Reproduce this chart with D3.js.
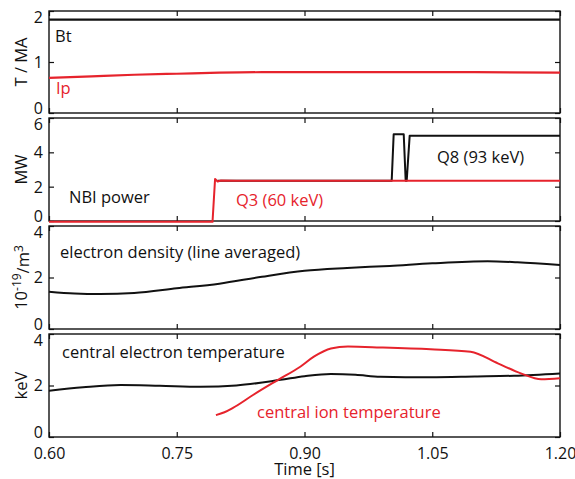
<!DOCTYPE html>
<html>
<head>
<meta charset="utf-8">
<script src="https://cdnjs.cloudflare.com/ajax/libs/d3/7.8.5/d3.min.js"></script>
<style>
  body { margin: 0; background: white; }
  text { font-family: "Open Sans", sans-serif; }
</style>
</head>
<body>
<svg id="chart" width="575" height="479"></svg>
<script>
var RED = "#e6232c";

// x axis
var timeTicks = [0.60, 0.75, 0.90, 1.05, 1.20];

// panel 1: Bt and Ip
var btTime = [0.60, 1.20];
var btVals = [1.83, 1.83];
var ipTime = [0.60, 0.65, 0.70, 0.75, 0.80, 0.85, 0.90, 1.00, 1.10, 1.20];
var ipVals = [0.69, 0.72, 0.75, 0.77, 0.79, 0.80, 0.80, 0.80, 0.80, 0.79];

// panel 2: NBI power
var q3Time = [0.60, 0.792, 0.795, 0.798, 0.802, 0.82, 1.20];
var q3Vals = [-0.05, -0.05, 2.45, 2.30, 2.36, 2.35, 2.35];
var q8Time = [0.798, 1.0024, 1.0047, 1.0165, 1.0188, 1.0200, 1.0235, 1.20];
var q8Vals = [2.35, 2.35, 5.05, 5.05, 2.35, 2.35, 4.97, 4.97];

// panel 3: line averaged electron density
var neTime = [0.60, 0.63, 0.66, 0.70, 0.75, 0.80, 0.85, 0.90, 0.95, 1.00, 1.05, 1.115, 1.15, 1.20];
var neVals = [1.45, 1.38, 1.36, 1.40, 1.58, 1.76, 2.03, 2.26, 2.37, 2.45, 2.55, 2.63, 2.59, 2.49];

// panel 4: central temperatures
var teTime = [0.60, 0.64, 0.684, 0.73, 0.778, 0.82, 0.872, 0.90, 0.931, 0.96, 0.989, 1.048, 1.10, 1.146, 1.20];
var teVals = [1.80, 1.93, 2.02, 1.99, 1.95, 2.00, 2.22, 2.36, 2.45, 2.42, 2.34, 2.32, 2.35, 2.38, 2.47];
var tiTime = [0.796, 0.806, 0.816, 0.84, 0.868, 0.895, 0.911, 0.931, 0.951, 0.989, 1.048, 1.095, 1.127, 1.154, 1.178, 1.20];
var tiVals = [0.85, 0.96, 1.13, 1.64, 2.20, 2.73, 3.12, 3.44, 3.51, 3.48, 3.41, 3.31, 2.86, 2.47, 2.24, 2.28];

var svg = d3.select("#chart");
var left = 49, right = 560;
var FS = "16.5px";

var x = d3.scaleLinear().domain([0.6, 1.2]).range([left, right]);

var panels = [
  { top: 11,  bottom: 113, domain: [0, 2], ticks: [0, 1, 2] },
  { top: 118, bottom: 221, domain: [0, 6], ticks: [0, 2, 4, 6] },
  { top: 226, bottom: 329, domain: [0, 4], ticks: [0, 2, 4] },
  { top: 334, bottom: 437, domain: [0, 4], ticks: [0, 2, 4] }
];

panels.forEach(function(p, i) {
  p.y = d3.scaleLinear().domain(p.domain).range([p.bottom, p.top]);
  var g = svg.append("g").attr("class", "panel");

  g.append("rect")
    .attr("x", left).attr("y", p.top)
    .attr("width", right - left).attr("height", p.bottom - p.top)
    .attr("fill", "none").attr("stroke", "#111").attr("stroke-width", 1.4);

  var yl = g.append("g")
    .attr("transform", "translate(" + left + ",0)")
    .call(d3.axisLeft(p.y).tickValues(p.ticks).tickSizeInner(-5).tickSizeOuter(0).tickPadding(6).tickFormat(d3.format("d")));
  // end labels pulled inward so stacked panels don't collide
  yl.selectAll(".tick text")
    .attr("dy", function(d) { return d == p.domain[1] ? "0.7em" : (d == p.domain[0] ? "0.0em" : "0.34em"); });

  g.append("g")
    .attr("transform", "translate(" + right + ",0)")
    .call(d3.axisRight(p.y).tickValues(p.ticks).tickSizeInner(-5).tickSizeOuter(0).tickFormat(""));

  g.append("g")
    .attr("transform", "translate(0," + p.top + ")")
    .call(d3.axisTop(x).tickValues(timeTicks).tickSizeInner(-5).tickSizeOuter(0).tickFormat(""));

  g.append("g")
    .attr("transform", "translate(0," + p.bottom + ")")
    .call(d3.axisBottom(x).tickValues(timeTicks).tickSizeInner(-5).tickSizeOuter(0).tickPadding(11)
      .tickFormat(i == 3 ? d3.format(".2f") : ""));

  g.selectAll(".domain").remove();
  g.selectAll(".tick line").attr("stroke", "#111").attr("stroke-width", 1.2);
  g.selectAll(".tick text").attr("font-size", "16px").attr("fill", "#111").attr("font-family", "Open Sans, sans-serif");
});

function drawLine(p, times, vals, color, curve, width) {
  var pts = times.map(function(t, i) { return [t, vals[i]]; });
  svg.append("path")
    .datum(pts)
    .attr("fill", "none")
    .attr("stroke", color)
    .attr("stroke-width", width || 2)
    .attr("stroke-linejoin", "round")
    .attr("d", d3.line()
      .x(function(d) { return x(d[0]); })
      .y(function(d) { return p.y(d[1]); })
      .curve(curve || d3.curveLinear));
}

drawLine(panels[0], btTime, btVals, "#111", d3.curveLinear, 2.2);
drawLine(panels[0], ipTime, ipVals, RED, d3.curveMonotoneX, 2.2);

drawLine(panels[1], q8Time, q8Vals, "#111", d3.curveLinear, 2);
drawLine(panels[1], q3Time, q3Vals, RED, d3.curveLinear, 2);

drawLine(panels[2], neTime, neVals, "#111", d3.curveMonotoneX, 2);

drawLine(panels[3], teTime, teVals, "#111", d3.curveMonotoneX, 2);
drawLine(panels[3], tiTime, tiVals, RED, d3.curveMonotoneX, 2);

// in-plot labels
function label(px, py, txt, color) {
  svg.append("text")
    .attr("x", px).attr("y", py)
    .attr("font-size", FS)
    .attr("fill", color || "#111")
    .text(txt);
}
label(55, 42, "Bt");
label(56, 94, "Ip", RED);
label(69, 203, "NBI power");
label(236, 206, "Q3 (60 keV)", RED);
label(437, 163, "Q8 (93 keV)");
label(60, 258, "electron density (line averaged)");
label(62, 358, "central electron temperature");
label(257, 418, "central ion temperature", RED);

// y axis titles
function yTitle(p) {
  return svg.append("text")
    .attr("text-anchor", "middle")
    .attr("font-size", FS)
    .attr("fill", "#111")
    .attr("transform", "translate(27," + ((p.top + p.bottom) / 2) + ") rotate(-90)");
}
yTitle(panels[0]).text("T / MA");
yTitle(panels[1]).text("MW");
var dens = yTitle(panels[2]);
dens.append("tspan").text("10");
dens.append("tspan").attr("dy", "-0.5em").attr("font-size", "12px").text("-19");
dens.append("tspan").attr("dy", "0.5em").text("/m");
dens.append("tspan").attr("dy", "-0.5em").attr("font-size", "12px").text("3");
yTitle(panels[3]).text("keV");

svg.append("text")
  .attr("x", (left + right) / 2).attr("y", 475)
  .attr("text-anchor", "middle")
  .attr("font-size", FS)
  .attr("fill", "#111")
  .text("Time [s]");
</script>
</body>
</html>
